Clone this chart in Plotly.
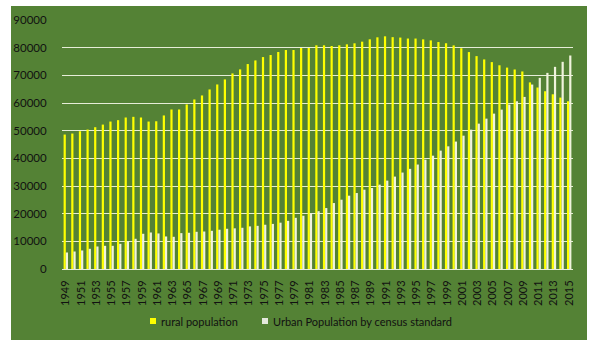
import plotly.graph_objects as go

years = list(range(1949, 2016))

rural = [
    48600, 48960, 49800, 50400, 51250, 52200, 53300, 53800, 54760, 55000,
    54760, 53300, 53400, 55500, 57650, 57650, 59470,
    61280, 62730, 64900, 66700, 68530, 70700, 72150, 74080, 75400, 76600,
    77340, 78430, 79150, 79150, 79880, 79880, 80850,
    80850, 80600, 80850, 81200, 81570, 82170, 83020, 83740, 84100, 83800,
    83650, 83300, 83300, 83000, 82630, 82030, 81600,
    80820, 79800, 78400, 76950, 75750, 74780, 73630, 72800, 72120, 71400,
    67450, 65600, 64250, 63150, 61950, 60620,
]

urban = [
    5970, 6330, 6700, 7300, 8140, 8380, 8380, 9100, 10070, 10920,
    12730, 13200, 12850, 11760, 11640, 12970, 13100,
    13450, 13550, 13800, 14200, 14540, 14700, 14900, 15400, 15600, 16000,
    16300, 16750, 17400, 18500, 19250, 20200, 20900,
    22030, 23840, 25050, 26500, 27460, 28670, 29270, 30480, 31950, 33400,
    34860, 36200, 37760, 39520, 40960, 42780, 44340,
    46060, 48190, 50360, 52540, 54350, 56160, 57610, 59420, 60620, 62200,
    66670, 69080, 70890, 73070, 74880, 77170,
]

series_names = ["rural population", "Urban Population by census standard"]
tick_years = [y for y in years if y % 2 == 1]

GREEN = "#548235"
YELLOW = "#ffff00"
PALE = "#f0f3dc"
GRID = "#e6edd8"
FONT = "Lato"
INK = "#111111"

fig = go.Figure()
fig.add_trace(go.Bar(x=years, y=rural, name=series_names[0],
                     marker=dict(color=YELLOW, line=dict(width=0)),
                     showlegend=False))
fig.add_trace(go.Bar(x=years, y=urban, name=series_names[1],
                     marker=dict(color=PALE, line=dict(width=0)),
                     showlegend=False))

# pixel -> paper helpers for the chart frame and the legend
W, H = 598, 345
L, R, T, B = 62, 25, 20, 76
pw, ph = W - L - R, H - T - B


def px_x(v):
    return (v - L) / pw


def px_y(v):
    return (H - B - v) / ph


shapes = [
    # green chart frame behind the plot
    dict(type="rect", xref="paper", yref="paper", layer="below",
         x0=px_x(11), x1=px_x(587), y0=px_y(340), y1=px_y(6),
         fillcolor=GREEN, line=dict(width=0)),
    # legend swatches
    dict(type="rect", xref="paper", yref="paper",
         x0=px_x(150), x1=px_x(156), y0=px_y(324), y1=px_y(318),
         fillcolor=YELLOW, line=dict(width=0)),
    dict(type="rect", xref="paper", yref="paper",
         x0=px_x(262), x1=px_x(268), y0=px_y(324), y1=px_y(318),
         fillcolor="#e4e8dc", line=dict(width=0)),
]

annotations = [
    dict(text=series_names[0], xref="paper", yref="paper",
         x=px_x(159), y=px_y(321), xanchor="left", yanchor="middle",
         showarrow=False, font=dict(family=FONT, size=11, color=INK)),
    dict(text=series_names[1], xref="paper", yref="paper",
         x=px_x(271), y=px_y(321), xanchor="left", yanchor="middle",
         showarrow=False, font=dict(family=FONT, size=11, color=INK)),
]

fig.update_layout(
    width=W, height=H,
    margin=dict(l=L, r=R, t=T, b=B, pad=0),
    paper_bgcolor="white",
    plot_bgcolor="rgba(0,0,0,0)",
    barmode="group",
    bargap=0.42,
    bargroupgap=0,
    showlegend=False,
    shapes=shapes,
    annotations=annotations,
    font=dict(family=FONT, color=INK),
)

fig.update_xaxes(
    range=[1948.5, 2015.5],
    tickmode="array", tickvals=tick_years,
    ticktext=[str(y) for y in tick_years],
    tickangle=-90,
    tickfont=dict(family=FONT, size=11, color=INK),
    ticks="outside", ticklen=6, tickcolor="rgba(0,0,0,0)",
    showgrid=False, zeroline=False,
    showline=True, linecolor=GRID, linewidth=1,
)

fig.update_yaxes(
    range=[0, 90000], dtick=10000, tick0=0,
    tickformat="d",
    tickfont=dict(family=FONT, size=11.5, color=INK),
    ticks="outside", ticklen=12, tickcolor="rgba(0,0,0,0)",
    showgrid=True, gridcolor=GRID, gridwidth=1,
    zeroline=False, showline=False,
)

fig.write_html("out.html")
